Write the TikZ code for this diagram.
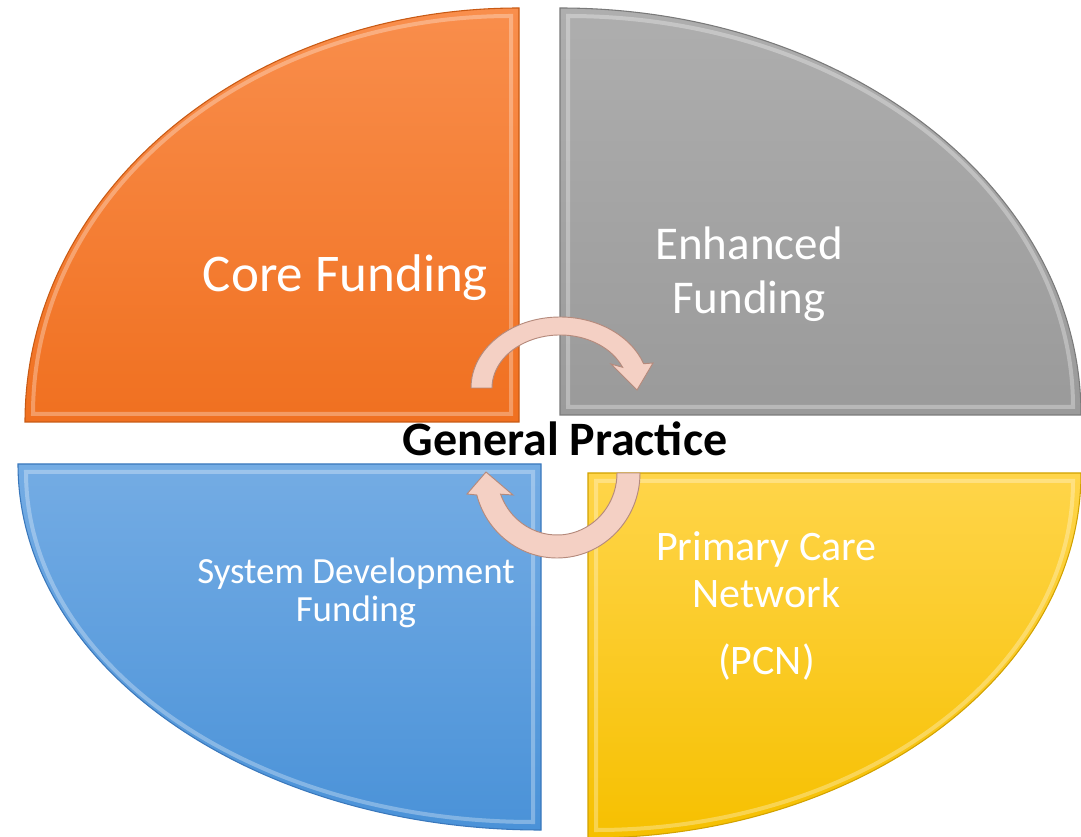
\documentclass[tikz,border=0pt]{standalone}
\usepackage{fontspec}
\setmainfont{Carlito}
\definecolor{orTop}{HTML}{F98E4C}
\definecolor{orBot}{HTML}{F07020}
\definecolor{orEdge}{HTML}{C85A14}
\definecolor{grTop}{HTML}{AEAEAE}
\definecolor{grBot}{HTML}{9A9A9A}
\definecolor{grEdge}{HTML}{7A7A7A}
\definecolor{blTop}{HTML}{74ACE4}
\definecolor{blBot}{HTML}{4A92D8}
\definecolor{blEdge}{HTML}{3A78BC}
\definecolor{yeTop}{HTML}{FFD54A}
\definecolor{yeBot}{HTML}{F6C000}
\definecolor{yeEdge}{HTML}{D2A200}
\definecolor{turnFill}{HTML}{F4D0C4}
\definecolor{turnEdge}{HTML}{B58A7C}
\tikzset{
  quad/.style={line width=0.8pt},
  bevel/.style={line width=3pt, white, opacity=0.3},
  turn/.style={fill=turnFill, draw=turnEdge, line width=0.7pt},
  quadtext/.style={text=white, align=center, anchor=base}
}
\begin{document}
\begin{tikzpicture}[x=0.75pt,y=0.75pt]
\useasboundingbox (0,0) rectangle (1081,836);
\coordinate (oc) at (519,414);
\coordinate (gc) at (560,421);
\coordinate (bc) at (541,372);
\coordinate (yc) at (588,363);
\draw[quad, top color=orTop, bottom color=orBot, draw=orEdge] (oc) -- ++(-494,0) arc[start angle=180, end angle=90, x radius=494, y radius=414] -- cycle;
\draw[bevel] ([shift={(-8,8)}]oc) -- ++(-478,0) arc[start angle=180, end angle=90, x radius=478, y radius=398] -- cycle;
\draw[quad, top color=grTop, bottom color=grBot, draw=grEdge] (gc) -- ++(0,407) arc[start angle=90, end angle=0, x radius=521, y radius=407] -- cycle;
\draw[bevel] ([shift={(8,8)}]gc) -- ++(0,391) arc[start angle=90, end angle=0, x radius=505, y radius=391] -- cycle;
\draw[quad, top color=blTop, bottom color=blBot, draw=blEdge] (bc) -- ++(-523,0) arc[start angle=180, end angle=270, x radius=523, y radius=366] -- cycle;
\draw[bevel] ([shift={(-8,-8)}]bc) -- ++(-507,0) arc[start angle=180, end angle=270, x radius=507, y radius=350] -- cycle;
\draw[quad, top color=yeTop, bottom color=yeBot, draw=yeEdge] (yc) -- ++(493,0) arc[start angle=0, end angle=-90, x radius=493, y radius=365] -- cycle;
\draw[bevel] ([shift={(8,-8)}]yc) -- ++(477,0) arc[start angle=0, end angle=-90, x radius=477, y radius=349] -- cycle;
\coordinate (tc) at (560,448);
\coordinate (bt) at (557,363);
\draw[turn] ([shift={(180:89 and 71)}]tc) arc[start angle=180, end angle=20, x radius=89, y radius=71] -- (653,473) -- (637,446) -- (611,472) -- ([shift={(23:68 and 53)}]tc) arc[start angle=23, end angle=180, x radius=68, y radius=53] -- cycle;
\draw[turn] ([shift={(0:83 and 85)}]bt) arc[start angle=360, end angle=195, x radius=83, y radius=85] -- (467,342) -- (486,364) -- (513,341) -- ([shift={(200:60 and 62)}]bt) arc[start angle=200, end angle=360, x radius=60, y radius=62] -- cycle;
\node[quadtext, font=\fontsize{39.75}{46}\selectfont] (core) at (345.5,544) {Core Funding};
\node[quadtext, font=\fontsize{35.25}{40.5}\selectfont] (enh) at (749,522) {Enhanced\\Funding};
\node[quadtext, font=\fontsize{27.7}{27.75}\selectfont] (sdf) at (356,215) {System Development\\Funding};
\node[quadtext, font=\fontsize{31.5}{35.25}\selectfont] (pcn) at (766.5,162) {Primary Care\\Network\\[15pt](PCN)};
\node[anchor=base, font=\bfseries\fontsize{36}{40}\selectfont] (gp) at (565,380) {General Practice};
\end{tikzpicture}
\end{document}
